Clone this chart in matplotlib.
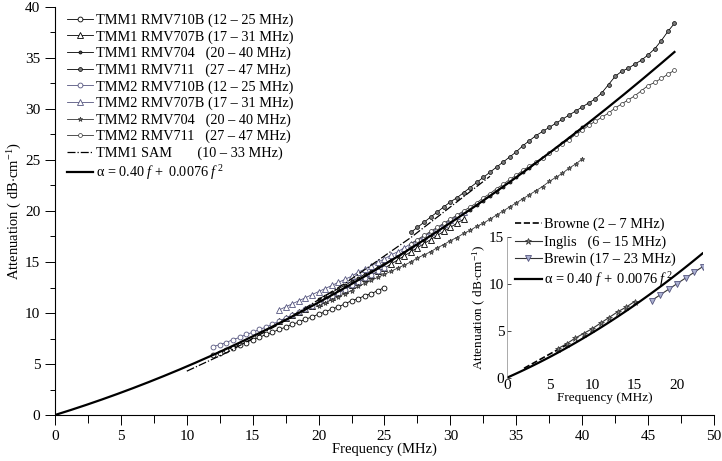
import numpy as np
import matplotlib
matplotlib.use('Agg')
import matplotlib.pyplot as plt

plt.rcParams['font.family'] = ['Liberation Serif', 'DejaVu Serif']
plt.rcParams['mathtext.fontset'] = 'custom'
plt.rcParams['mathtext.rm'] = 'Liberation Serif'
plt.rcParams['mathtext.it'] = 'Liberation Serif:italic'

# fit coefficients (alpha = a f + b f^2)
fit_a = 0.40
fit_b = 0.0076

# measured series (0.5 MHz steps)
f_710 = np.arange(12, 25.01, 0.5)
tmm1_710 = [5.9, 6.1, 6.4, 6.6, 6.9, 7.1, 7.4, 7.6, 7.9, 8.1, 8.4, 8.6, 8.9, 9.1,
            9.4, 9.6, 9.9, 10.1, 10.4, 10.6, 10.9, 11.2, 11.4, 11.7, 11.9, 12.2, 12.5]
tmm2_710 = [6.7, 6.9, 7.1, 7.4, 7.6, 7.9, 8.1, 8.4, 8.6, 8.9, 9.2, 9.5, 9.8, 10.1,
            10.4, 10.7, 11.0, 11.3, 11.7, 12.0, 12.3, 12.7, 13.0, 13.4, 13.7, 14.1, 14.4]

f_707 = np.arange(17, 31.01, 0.5)
tmm1_707 = [9.2, 9.5, 9.8, 10.1, 10.4, 10.7, 11.0, 11.3, 11.6, 12.0, 12.3, 12.7, 13.0,
            13.4, 13.7, 14.1, 14.4, 14.8, 15.2, 15.6, 16.0, 16.4, 16.8, 17.2, 17.6,
            18.0, 18.4, 18.8, 19.2]
tmm2_707 = [10.3, 10.6, 10.9, 11.2, 11.5, 11.8, 12.1, 12.4, 12.7, 13.0, 13.3, 13.6,
            14.0, 14.3, 14.6, 15.0, 15.3, 15.7, 16.0, 16.4, 16.8, 17.1, 17.5, 17.9,
            18.3, 18.7, 19.1, 19.5, 19.9]

f_704 = np.arange(20, 40.01, 0.5)
tmm1_704 = [11.4, 11.7, 12.0, 12.4, 12.7, 13.1, 13.4, 13.8, 14.1, 14.5, 14.9, 15.2,
            15.6, 16.0, 16.4, 16.8, 17.2, 17.6, 18.0, 18.4, 18.9, 19.3, 19.7, 20.1,
            20.6, 21.0, 21.5, 21.9, 22.4, 22.8, 23.3, 23.8, 24.2, 24.7, 25.2, 25.7,
            26.2, 26.7, 27.2, 27.7, 28.2]
tmm2_704 = [10.7, 11.0, 11.3, 11.6, 11.9, 12.2, 12.6, 12.9, 13.2, 13.5, 13.8, 14.1,
            14.4, 14.7, 15.0, 15.4, 15.7, 16.0, 16.4, 16.7, 17.1, 17.4, 17.8, 18.1,
            18.5, 18.8, 19.2, 19.6, 20.0, 20.4, 20.8, 21.2, 21.6, 22.0, 22.4, 22.9,
            23.3, 23.7, 24.2, 24.6, 25.1]

f_711 = np.arange(27, 47.01, 0.5)
tmm1_711 = [17.9, 18.4, 18.9, 19.4, 19.9, 20.4, 20.9, 21.3, 21.8, 22.3, 22.8, 23.3,
            23.8, 24.3, 24.8, 25.3, 25.8, 26.4, 26.9, 27.4, 27.8, 28.2, 28.6, 29.0,
            29.4, 29.8, 30.2, 30.6, 31.0, 31.6, 32.4, 33.2, 33.7, 34.0, 34.4, 34.8,
            35.3, 35.9, 36.7, 37.6, 38.4]
tmm2_711 = [16.8, 17.2, 17.6, 18.0, 18.4, 18.8, 19.2, 19.6, 20.0, 20.4, 20.8, 21.3,
            21.7, 22.2, 22.6, 23.1, 23.5, 24.0, 24.4, 24.8, 25.2, 25.7, 26.1, 26.6,
            27.0, 27.5, 27.9, 28.4, 28.8, 29.2, 29.6, 30.1, 30.5, 30.9, 31.3, 31.8,
            32.3, 32.6, 33.0, 33.4, 33.8]

f_sam = np.arange(10, 33.01, 1.0)
tmm1_sam = [4.3, 4.9, 5.5, 6.1, 6.8, 7.5, 8.2, 8.9, 9.7, 10.5, 11.3, 12.1, 12.9,
            13.8, 14.7, 15.6, 16.5, 17.4, 18.4, 19.4, 20.4, 21.4, 22.4, 23.4]

# literature values (inset)
f_browne = [2, 3, 4, 5, 6, 7]
browne = [1.0, 1.5, 2.0, 2.5, 3.0, 3.5]
f_inglis = [6, 7, 8, 9, 10, 11, 12, 13, 14, 15]
inglis = [3.1, 3.6, 4.2, 4.7, 5.2, 5.8, 6.4, 7.0, 7.5, 8.1]
f_brewin = [17, 18, 19, 20, 21, 22, 23]
brewin = [8.2, 8.8, 9.4, 10.0, 10.6, 11.2, 11.8]

fit_label = r'α = $\mathit{0.40\ f\ \!+\ 0.0076\ f^{\,2}}$'
purple = '#55557f'
grey = '#7a7a7a'

fig = plt.figure(figsize=(7.22, 4.61), dpi=100)
ax = fig.add_axes([55 / 722, 1 - 415 / 461, 659 / 722, 408 / 461])

lw = 0.6
ax.plot(f_710, tmm1_710, '-o', color='k', lw=lw, ms=3.5, mfc='white', mew=0.6,
        label='TMM1 RMV710B (12 – 25 MHz)')
ax.plot(f_707, tmm1_707, '-^', color='k', lw=lw, ms=4, mfc='white', mew=0.6,
        label='TMM1 RMV707B (17 – 31 MHz)')
ax.plot(f_704, tmm1_704, '-o', color='k', lw=lw, ms=2.2, mfc='#444444', mew=0.5,
        label='TMM1 RMV704   (20 – 40 MHz)')
ax.plot(f_711, tmm1_711, '-o', color='k', lw=lw, ms=2.8, mfc=grey, mew=0.5,
        label='TMM1 RMV711   (27 – 47 MHz)')
ax.plot(f_710, tmm2_710, '-o', color=purple, mec=purple, lw=lw, ms=3.5, mfc='white', mew=0.6,
        label='TMM2 RMV710B (12 – 25 MHz)')
ax.plot(f_707, tmm2_707, '-^', color=purple, mec=purple, lw=lw, ms=4, mfc='white', mew=0.6,
        label='TMM2 RMV707B (17 – 31 MHz)')
ax.plot(f_704, tmm2_704, '-*', color='#333333', lw=lw, ms=3.5, mfc=grey, mew=0.5,
        label='TMM2 RMV704   (20 – 40 MHz)')
ax.plot(f_711, tmm2_711, '-o', color='#333333', lw=lw, ms=2.8, mfc='white', mew=0.5,
        label='TMM2 RMV711   (27 – 47 MHz)')
ax.plot(f_sam, tmm1_sam, '-.', color='k', lw=0.9,
        label='TMM1 SAM       (10 – 33 MHz)')
ff = np.linspace(0, 47, 200)
ax.plot(ff, fit_a * ff + fit_b * ff ** 2, '-', color='k', lw=1.6, label=fit_label)

ax.set_xlim(0, 50)
ax.set_ylim(0, 40)
ax.set_xticks(np.arange(0, 51, 5))
ax.set_xticks(np.arange(2.5, 50, 5), minor=True)
ax.set_yticks(np.arange(0, 41, 5))
ax.set_yticks(np.arange(2.5, 40, 5), minor=True)
ax.tick_params(which='major', direction='out', length=7, width=0.7, labelsize=11)
ax.tick_params(axis='x', which='minor', direction='out', length=6, width=0.7)
ax.tick_params(axis='y', which='minor', direction='out', length=3.5, width=0.7)
for s in ['top', 'right']:
    ax.spines[s].set_visible(False)
for s in ['left', 'bottom']:
    ax.spines[s].set_linewidth(0.8)
ax.set_xlabel('Frequency (MHz)', fontsize=10.5, labelpad=0)
ax.set_ylabel(r'Attenuation ( dB$\cdot$cm$^{-1}$)', fontsize=10.5, labelpad=1)
ax.legend(loc='upper left', bbox_to_anchor=(0.005, 1.005), frameon=False, fontsize=10.3,
          handlelength=1.85, handletextpad=0.2, labelspacing=0.22, borderaxespad=0.2)

# inset with literature data
ins = fig.add_axes([507 / 722, 1 - 377.7 / 461, 195.5 / 722, 141 / 461])
ins.patch.set_alpha(0)
ins.plot(f_browne, browne, '--', color='k', lw=1.2, label='Browne (2 – 7 MHz)')
ins.plot(f_inglis, inglis, '-*', color='#333333', lw=0.8, ms=5, mfc=grey, mew=0.5,
         label='Inglis   (6 – 15 MHz)')
ins.plot(f_brewin, brewin, '-v', color='#333333', mec=purple, lw=0.8, ms=5, mfc='#aab0d0',
         mew=0.6, label='Brewin (17 – 23 MHz)')
fi = np.linspace(0, 23, 100)
ins.plot(fi, fit_a * fi + fit_b * fi ** 2, '-', color='k', lw=1.6, label=fit_label)
ins.set_xlim(0, 23)
ins.set_ylim(0, 15)
ins.set_xticks([0, 5, 10, 15, 20])
ins.set_yticks([0, 5, 10, 15])
ins.tick_params(axis='x', length=0, pad=1, labelsize=11)
ins.tick_params(axis='y', length=3, width=0.5, direction='in', pad=2, labelsize=11)
for s in ['top', 'right', 'bottom']:
    ins.spines[s].set_visible(False)
ins.spines['left'].set_linewidth(0.5)
ins.spines['left'].set_color('#888888')
ins.set_xlabel('Frequency (MHz)', fontsize=9.5, labelpad=0)
ins.set_ylabel(r'Attenuation ( dB$\cdot$cm$^{-1}$)', fontsize=9.5, labelpad=1)
fig.legend(*ins.get_legend_handles_labels(), loc='upper left',
           bbox_to_anchor=(509 / 722, 1 - 212 / 461), frameon=False, fontsize=10.4,
           handlelength=1.85, handletextpad=0.15, labelspacing=0.28, borderaxespad=0)

fig.savefig('out.png', dpi=100)
